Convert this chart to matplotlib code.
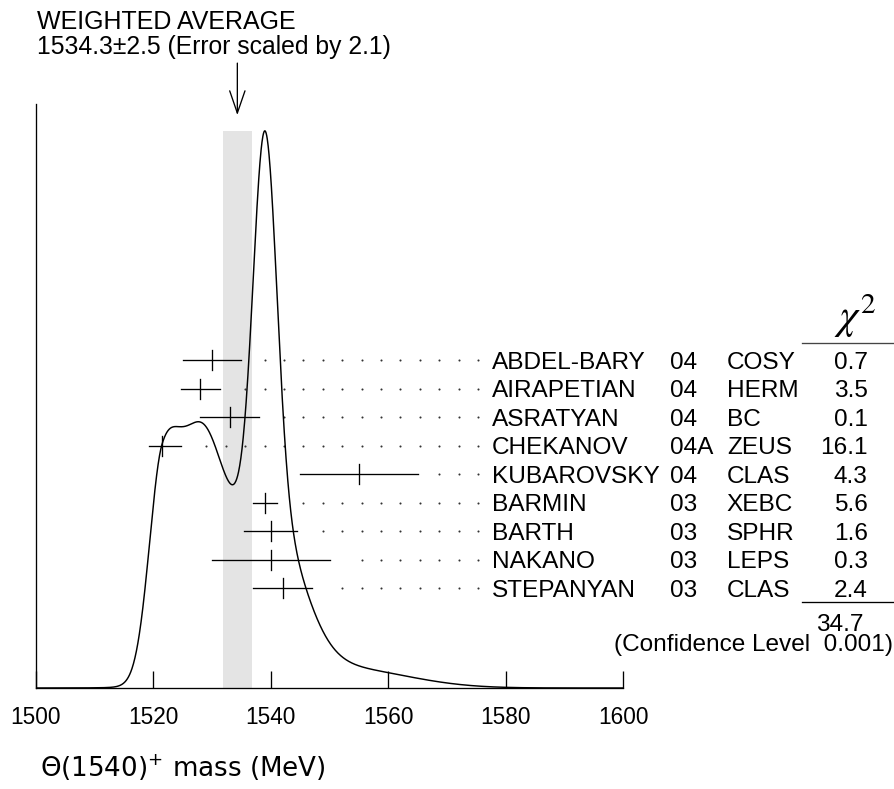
#!/usr/bin/env python3
"""
Ideograma de la masa del Theta(1540)+ con la media ponderada (estilo PDG).
"""

import numpy as np
import matplotlib
matplotlib.use("Agg")
import matplotlib.pyplot as plt

# -------------------------------------------------------------------
# Datos
# -------------------------------------------------------------------
AUTHORS = ["ABDEL-BARY", "AIRAPETIAN", "ASRATYAN", "CHEKANOV", "KUBAROVSKY",
           "BARMIN", "BARTH", "NAKANO", "STEPANYAN"]
YEARS = ["04", "04", "04", "04A", "04", "03", "03", "03", "03"]
EXPERIMENTS = ["COSY", "HERM", "BC", "ZEUS", "CLAS", "XEBC", "SPHR", "LEPS", "CLAS"]
CHI2 = ["0.7", "3.5", "0.1", "16.1", "4.3", "5.6", "1.6", "0.3", "2.4"]
MASS = [1530.0, 1528.0, 1533.0, 1521.5, 1555.0, 1539.0, 1540.0, 1540.0, 1542.0]
ERR_LO = [5.0, 3.3, 5.0, 2.3, 10.0, 2.0, 4.5, 10.0, 5.0]
ERR_HI = [5.0, 3.3, 5.0, 3.2, 10.0, 2.0, 4.5, 10.0, 5.0]

AVG = 1534.3
AVG_ERR = 2.5
SCALE = 2.1
CHI2_TOTAL = "34.7"
CONF_LEVEL = "0.001"

XTICKS = [1500, 1520, 1540, 1560, 1580, 1600]

# -------------------------------------------------------------------
# Estilo
# -------------------------------------------------------------------
W, H = 895, 789
FONT = "Liberation Sans"
FS = 17.6
LW = 0.95
ROW0 = 0.5616          # fila superior (fracción de ejes)
ROW_STEP = 0.0488
CAP_OFF = 0.0149        # de centro de mayúsculas a línea base
TICK_HALF = 0.0171
DOT_END = 1575.3
DOT_STEP = 3.305

plt.rcParams["font.family"] = FONT


def fx(px):
    return px / W


def fy(py):
    return 1 - py / H


fig = plt.figure(figsize=(W / 100, H / 100), dpi=100)
ax = fig.add_axes([fx(36), 1 - 688 / H, 587 / W, 584 / H])
ax.set_xlim(1500, 1600)
ax.set_ylim(0, 1)

# Ideograma: suma de gaussianas de área 1/sigma
x = np.linspace(1500, 1600, 2001)
curve = np.zeros_like(x)
for m, lo, hi in zip(MASS, ERR_LO, ERR_HI):
    s = np.where(x < m, lo, hi)
    amp = 1.0 / (lo * hi)
    curve += amp * np.exp(-0.5 * ((x - m) / s) ** 2)
curve = curve / curve.max() * 0.954

# Banda de la media ponderada
ax.fill_between([AVG - AVG_ERR, AVG + AVG_ERR], 0, curve.max(),
                color="#e4e4e4", lw=0, zorder=1)
ax.plot(x, curve, color="black", lw=1.05, zorder=3)

# Medidas
dot_grid = DOT_END - DOT_STEP * np.arange(0, 40)
for i, (m, lo, hi) in enumerate(zip(MASS, ERR_LO, ERR_HI)):
    y = ROW0 - i * ROW_STEP
    ax.plot([m - lo, m + hi], [y, y], color="black", lw=LW, zorder=4)
    ax.plot([m, m], [y - TICK_HALF, y + TICK_HALF], color="black", lw=LW, zorder=4)
    dots = dot_grid[dot_grid > m + hi + 3.0]
    ax.plot(dots, np.full_like(dots, y), ls="none", marker="o", ms=1.5,
            mec="none", mfc="#333333", zorder=2)
    yb = y - CAP_OFF
    ax.text(1577.7, yb, AUTHORS[i], fontsize=FS, va="baseline", ha="left")
    ax.text(1608.0, yb, YEARS[i], fontsize=FS, va="baseline", ha="left")
    ax.text(1617.7, yb, EXPERIMENTS[i], fontsize=FS, va="baseline", ha="left")
    ax.text(1641.7, yb, CHI2[i], fontsize=FS, va="baseline", ha="right")

# Cabecera chi^2 y totales
ax.text(1639.6, 0.637, r"$\chi^2$", fontsize=30, ha="center", va="center",
        math_fontfamily="stix")
ax.plot([1630.5, 1646.3], [0.5908, 0.5908], color="#444444", lw=LW, clip_on=False)
ax.plot([1630.5, 1646.3], [0.1478, 0.1478], color="black", lw=LW, clip_on=False)
ax.text(1640.9, 0.0975, CHI2_TOTAL, fontsize=FS, ha="right", va="baseline")
ax.text(1646.0, 0.0639, f"(Confidence Level  {CONF_LEVEL})", fontsize=FS,
        ha="right", va="baseline")

# Flecha
ax.annotate("", xy=(AVG, 0.981), xytext=(AVG, 1.070),
            arrowprops=dict(arrowstyle="->, head_length=1.6, head_width=0.55",
                            lw=LW, color="black", mutation_scale=10,
                            shrinkA=0, shrinkB=0),
            annotation_clip=False)

# Ejes
for side in ["top", "right"]:
    ax.spines[side].set_visible(False)
ax.spines["left"].set_linewidth(LW)
ax.spines["bottom"].set_linewidth(LW)
ax.set_yticks([])
ax.set_xticks(XTICKS)
ax.set_xticklabels([str(t) for t in XTICKS])
ax.tick_params(axis="x", direction="in", length=12.2, width=LW, pad=13,
               labelsize=16.3)

# Textos
fig.text(fx(37), fy(28.7), "WEIGHTED AVERAGE", fontsize=18, va="baseline")
fig.text(fx(37), fy(53.7),
         f"{AVG}\u00b1{AVG_ERR} (Error scaled by {SCALE})",
         fontsize=17.8, va="baseline")
fig.text(fx(40), fy(768), r"$\mathit{\Theta}(1540)^{+}$ mass (MeV)",
         fontsize=18.8, va="center", family="DejaVu Sans")

fig.savefig("out.png", dpi=100)
plt.close(fig)
